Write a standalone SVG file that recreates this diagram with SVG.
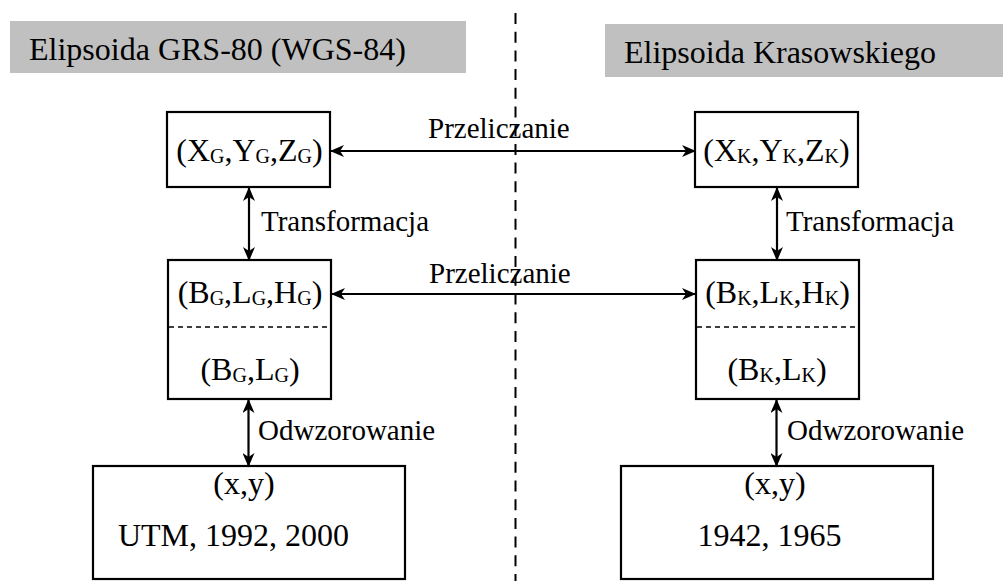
<svg xmlns="http://www.w3.org/2000/svg" width="1003" height="581" viewBox="0 0 1003 581" font-family="'Liberation Serif', 'Times New Roman', serif">
<defs>
<marker id="ah" viewBox="0 0 14 12" refX="13" refY="6" markerWidth="14" markerHeight="12" markerUnits="userSpaceOnUse" orient="auto-start-reverse">
<path d="M0,0 L14,6 L0,12 L4,6 Z" fill="#000"/>
</marker>
<style>
text{fill:#000}
.hdr{font-size:32px}
.t{font-size:29px}
.b{font-size:32px}
.sub{font-size:20px}
.box{fill:#fff;stroke:#000;stroke-width:2.2}
.band{fill:#c0c0c0}
.div{stroke:#000;stroke-width:1.6;stroke-dasharray:5,4}
.con{stroke:#000;stroke-width:2.2;fill:none;marker-start:url(#ah);marker-end:url(#ah)}
.sep{stroke:#000;stroke-width:2;stroke-dasharray:11,7.7}
</style>
</defs>
<rect width="1003" height="581" fill="#fff"/>
<g id="header-left">
<rect class="band" x="10" y="21" width="456" height="52"/>
<text class="hdr" x="29" y="60">Elipsoida GRS-80 (WGS-84)</text>
</g>
<g id="header-right">
<rect class="band" x="605" y="24" width="398" height="53"/>
<text class="hdr" x="624" y="63">Elipsoida Krasowskiego</text>
</g>
<line class="sep" x1="515.5" y1="13" x2="515.5" y2="581"/>
<g id="connectors">
<line class="con" x1="331" y1="151" x2="695" y2="151"/>
<line class="con" x1="332" y1="294" x2="695" y2="294"/>
<line class="con" x1="249" y1="188" x2="249" y2="260"/>
<line class="con" x1="777" y1="188" x2="777" y2="260"/>
<line class="con" x1="248.5" y1="400" x2="248.5" y2="466"/>
<line class="con" x1="776.5" y1="400" x2="776.5" y2="466"/>
<text class="t" x="428" y="138">Przeliczanie</text>
<text class="t" x="429" y="283">Przeliczanie</text>
<text class="t" x="261" y="231">Transformacja</text>
<text class="t" x="786" y="231">Transformacja</text>
<text class="t" x="258" y="440">Odwzorowanie</text>
<text class="t" x="787" y="440">Odwzorowanie</text>
</g>
<g id="xyz-g">
<rect class="box" x="167" y="112" width="163" height="75"/>
<text class="b" x="249.5" y="161" text-anchor="middle">(X<tspan class="sub" dy="2">G</tspan><tspan dy="-2">,Y</tspan><tspan class="sub" dy="2">G</tspan><tspan dy="-2">,Z</tspan><tspan class="sub" dy="2">G</tspan><tspan dy="-2">)</tspan></text>
</g>
<g id="xyz-k">
<rect class="box" x="695" y="112" width="163" height="75"/>
<text class="b" x="776.5" y="161" text-anchor="middle">(X<tspan class="sub" dy="2">K</tspan><tspan dy="-2">,Y</tspan><tspan class="sub" dy="2">K</tspan><tspan dy="-2">,Z</tspan><tspan class="sub" dy="2">K</tspan><tspan dy="-2">)</tspan></text>
</g>
<g id="blh-g">
<rect class="box" x="168" y="260" width="163" height="139"/>
<line class="div" x1="169" y1="327" x2="330" y2="327"/>
<text class="b" x="250" y="303" text-anchor="middle">(B<tspan class="sub" dy="2">G</tspan><tspan dy="-2">,L</tspan><tspan class="sub" dy="2">G</tspan><tspan dy="-2">,H</tspan><tspan class="sub" dy="2">G</tspan><tspan dy="-2">)</tspan></text>
<text class="b" x="250" y="380" text-anchor="middle">(B<tspan class="sub" dy="2">G</tspan><tspan dy="-2">,L</tspan><tspan class="sub" dy="2">G</tspan><tspan dy="-2">)</tspan></text>
</g>
<g id="blh-k">
<rect class="box" x="696" y="260" width="163" height="139"/>
<line class="div" x1="697" y1="327" x2="858" y2="327"/>
<text class="b" x="777.5" y="303" text-anchor="middle">(B<tspan class="sub" dy="2">K</tspan><tspan dy="-2">,L</tspan><tspan class="sub" dy="2">K</tspan><tspan dy="-2">,H</tspan><tspan class="sub" dy="2">K</tspan><tspan dy="-2">)</tspan></text>
<text class="b" x="777" y="380" text-anchor="middle">(B<tspan class="sub" dy="2">K</tspan><tspan dy="-2">,L</tspan><tspan class="sub" dy="2">K</tspan><tspan dy="-2">)</tspan></text>
</g>
<g id="xy-g">
<rect class="box" x="93" y="466" width="312" height="113"/>
<text class="b" x="244" y="494" text-anchor="middle">(x,y)</text>
<text class="b" x="233.5" y="546" text-anchor="middle">UTM, 1992, 2000</text>
</g>
<g id="xy-k">
<rect class="box" x="621" y="466" width="312" height="113"/>
<text class="b" x="775" y="494" text-anchor="middle">(x,y)</text>
<text class="b" x="769.5" y="546" text-anchor="middle">1942, 1965</text>
</g>
</svg>
